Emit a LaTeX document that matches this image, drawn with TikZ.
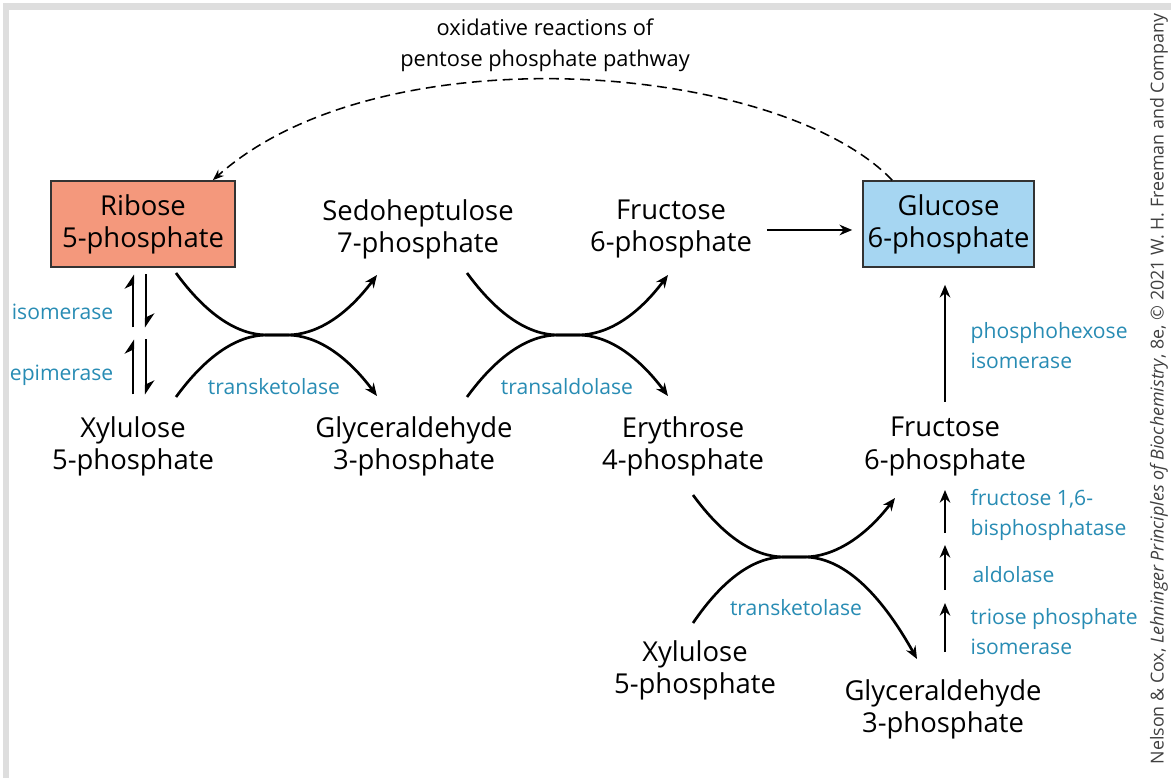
\documentclass[tikz,border=0pt]{standalone}
\usepackage{fontspec}
\usepackage{graphicx}
\setmainfont{Open Sans}
\usetikzlibrary{arrows.meta,calc}

\definecolor{ribosefill}{RGB}{244,152,124}
\definecolor{glucosefill}{RGB}{166,214,242}
\definecolor{enzyme}{RGB}{40,140,180}
\definecolor{framegray}{RGB}{222,222,222}

\begin{document}
\begin{tikzpicture}[x=0.025cm,y=0.025cm,
  sugar/.style={align=center,font=\fontsize{19.5}{22.8}\selectfont,inner sep=2pt},
  box/.style={sugar,draw=black!80,line width=1.1pt,minimum height=2.15cm},
  enz/.style={align=left,text=enzyme,font=\fontsize{15}{21.3}\selectfont,inner sep=1pt},
  rxn/.style={line width=1.9pt,-{Stealth[length=9pt,width=7.5pt]}},
  eq/.style={line width=1.8pt,-{Stealth[harpoon,length=9pt,width=12pt]}}]

  \useasboundingbox (0,0) rectangle (1171,778);
  \fill[white] (0,0) rectangle (1171,778);
  % grey frame, top and left only
  \fill[framegray] (3,768) rectangle (1171,775);
  \fill[framegray] (3,0) rectangle (9,775);

  % sugars
  \node[box,fill=ribosefill,minimum width=4.6cm] (rib) at (143,554) {Ribose\\5-phosphate};
  \node[box,fill=glucosefill,minimum width=4.275cm] (glc) at (948.5,554) {Glucose\\6-phosphate};
  \node[sugar] (sed) at (418,549) {Sedoheptulose\\7-phosphate};
  \node[sugar] (fru) at (671,549) {Fructose\\6-phosphate};
  \node[sugar] (xyl) at (133,331.5) {Xylulose\\5-phosphate};
  \node[sugar] (gap) at (414,331.5) {Glyceraldehyde\\3-phosphate};
  \node[sugar] (ery) at (683,331.5) {Erythrose\\4-phosphate};
  \node[sugar] (frub) at (945,331.5) {Fructose\\6-phosphate};
  \node[sugar] (xylb) at (695,107.5) {Xylulose\\5-phosphate};
  \node[sugar] (gapb) at (943,69) {Glyceraldehyde\\3-phosphate};

  \node[align=center,font=\fontsize{15.5}{22}\selectfont] (ox) at (545,733)
    {oxidative reactions of\\pentose phosphate pathway};
  \draw[dashed,dash pattern=on 7pt off 4pt,line width=1.1pt,-{Stealth[length=8pt,width=6pt]}]
    ($(glc.north west)+(30,0)$) .. controls +(-113,118) and +(168,150) .. ($(rib.north east)+(-23,0)$);

  % the two arcs of each exchange run together for a short stretch
  \coordinate (xa) at (277,443);
  \coordinate (xb) at (568,443);
  \coordinate (xc) at (794,221);

  \draw[rxn] ($(rib)+(33,-49)$) .. controls +(30,-41) and +(-30,0) .. ($(xa)+(-10,0)$) -- ($(xa)+(10,0)$)
    .. controls +(30,0) and +(-30,-40) .. ($(sed)+(-41,-46)$);
  \draw[rxn] ($(xyl)+(43,49.5)$) .. controls +(30,41) and +(-30,0) .. ($(xa)+(-10,0)$) -- ($(xa)+(10,0)$)
    .. controls +(30,0) and +(-30,40) .. ($(gap)+(-37,50.5)$);

  \draw[rxn] ($(sed)+(49,-44)$) .. controls +(30,-41) and +(-30,0) .. ($(xb)+(-10,0)$) -- ($(xb)+(10,0)$)
    .. controls +(30,0) and +(-30,-40) .. ($(fru)+(-3,-46)$);
  \draw[rxn] ($(gap)+(53,49.5)$) .. controls +(30,41) and +(-30,0) .. ($(xb)+(-10,0)$) -- ($(xb)+(10,0)$)
    .. controls +(30,0) and +(-30,40) .. ($(ery)+(-15,50.5)$);

  \draw[rxn] ($(ery)+(10,-48.5)$) .. controls +(30,-41) and +(-30,0) .. ($(xc)+(-10,0)$) -- ($(xc)+(10,0)$)
    .. controls +(30,0) and +(-30,-39) .. ($(frub)+(-50,-51.5)$);
  \draw[rxn] ($(xylb)+(-2,47.5)$) .. controls +(30,44) and +(-30,0) .. ($(xc)+(-10,0)$) -- ($(xc)+(10,0)$)
    .. controls +(38,0) and +(-38,68) .. ($(gapb)+(-26,50)$);

  \draw[rxn] ($(fru.east)+(12,-1)$) -- ($(glc.west)+(-10,-6)$);
  \draw[rxn] ($(frub.north)+(0,12.5)$) -- ($(frub.north |- glc.south)+(0,-17)$);
  \foreach \lo/\hi in {-205.5/-156.5,-143.5/-98.5,-86.5/-43.5}
    \draw[rxn] ($(frub)+(0,\lo)$) -- ($(frub)+(0,\hi)$);

  % isomerase / epimerase equilibria
  \foreach \lo/\hi in {-170.5/-115.5,-103.5/-50.5} {
    \draw[eq] ($(rib)+(-10,\lo)$) -- ($(rib)+(-10,\hi)$);
    \draw[eq] ($(rib)+(3,\hi)$) -- ($(rib)+(3,\lo)$);
  }

  % enzymes
  \node[enz,anchor=east] (iso) at (115,466) {isomerase};
  \node[enz,anchor=east] (epi) at (115,403) {epimerase};
  \node[enz] (tkla) at (274,391) {transketolase};
  \node[enz] (tald) at (567,391) {transaldolase};
  \node[enz] (tklb) at (796,170) {transketolase};
  \node[enz,anchor=west] (phi) at (969,432) {phosphohexose\\isomerase};
  \node[enz,anchor=west] (fbp) at (969,263) {fructose 1,6-\\bisphosphatase};
  \node[enz,anchor=west] (ald) at (971,203) {aldolase};
  \node[enz,anchor=west] (tpi) at (969,146) {triose phosphate\\isomerase};

  \node[rotate=90,text=black!75,font=\fontsize{12.7}{14}\selectfont] (cred) at (1159,389)
    {Nelson \& Cox, \textit{Lehninger Principles of Biochemistry}, 8e, © 2021 W. H. Freeman and Company};
\end{tikzpicture}
\end{document}
